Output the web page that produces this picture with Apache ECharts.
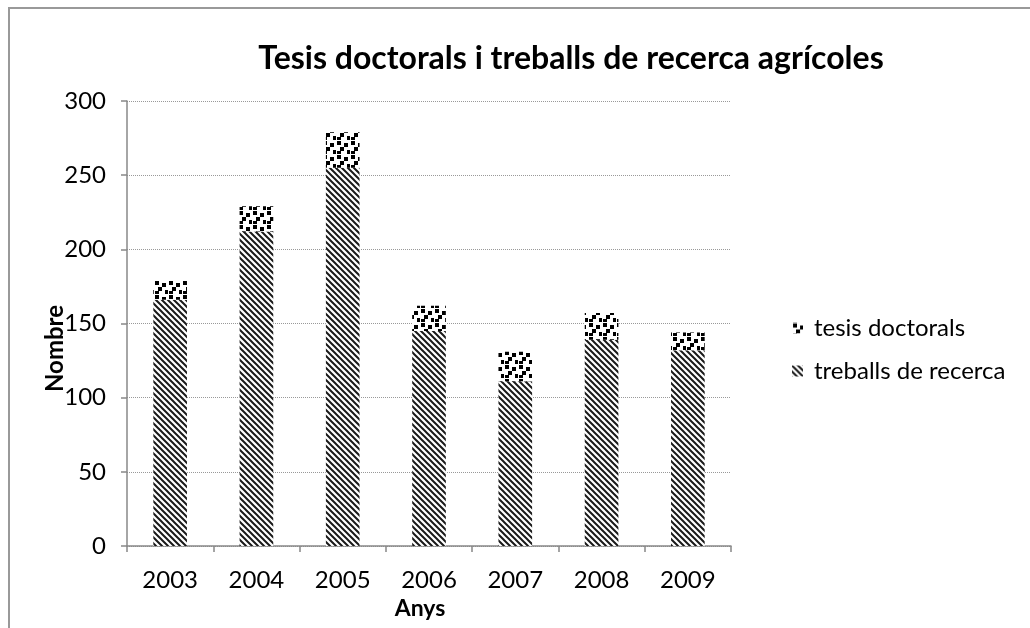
<!DOCTYPE html>
<html>
<head>
<meta charset="utf-8">
<script src="https://cdn.jsdelivr.net/npm/echarts@6/dist/echarts.min.js"></script>
<style>
  html, body { margin: 0; padding: 0; background: #fff; }
  #chart { width: 1030px; height: 628px; }
</style>
</head>
<body>
<div id="chart"></div>
<script>
const years = ['2003', '2004', '2005', '2006', '2007', '2008', '2009']
const treballs = [166, 212, 255, 145, 111, 139, 132]
const tesis = [13, 17, 24, 17, 20, 18, 12]
const yTicks = { min: 0, max: 300, interval: 50 }

const font = 'Lato, "Open Sans", sans-serif'

// diagonal hatch "\\\"
function stripes() {
  const c = document.createElement('canvas')
  c.width = 6; c.height = 6
  const g = c.getContext('2d')
  g.fillStyle = '#fff'; g.fillRect(0, 0, 6, 6)
  g.strokeStyle = '#1a1a1a'; g.lineWidth = 2
  g.beginPath()
  g.moveTo(-1, -1); g.lineTo(7, 7)
  g.moveTo(-7, -1); g.lineTo(1, 7)
  g.moveTo(5, -1); g.lineTo(13, 7)
  g.stroke()
  return c
}

// staggered black squares
function dots() {
  const c = document.createElement('canvas')
  c.width = 14; c.height = 14
  const g = c.getContext('2d')
  g.fillStyle = '#fff'; g.fillRect(0, 0, 14, 14)
  g.fillStyle = '#000'
  ;[[1, 1], [8, 3], [4, 7], [11, 10], [1, 11]].forEach(([x, y]) => g.fillRect(x, y, 4, 4))
  return c
}

const chart = echarts.init(document.getElementById('chart'))
chart.setOption({
  animation: false,
  backgroundColor: '#fff',
  title: {
    text: 'Tesis doctorals i treballs de recerca agrícoles',
    left: 566, top: 38, textAlign: 'center',
    textStyle: { fontFamily: font, fontSize: 32, fontWeight: 'bold', color: '#000' }
  },
  graphic: [{
    type: 'rect', shape: { x: 9, y: 8, width: 1100, height: 700 },
    style: { fill: 'none', stroke: '#999', lineWidth: 2 }, silent: true
  }],
  legend: {
    left: 787, top: 311, orient: 'vertical', itemGap: 19,
    itemWidth: 11, itemHeight: 11, icon: 'rect',
    data: ['tesis doctorals', 'treballs de recerca'],
    textStyle: { fontFamily: font, fontSize: 24, color: '#000', padding: [0, 0, 0, 6] }
  },
  grid: { left: 127, right: 299, top: 101, bottom: 82 },
  xAxis: {
    type: 'category', data: years,
    name: 'Anys', nameLocation: 'middle', nameGap: 50,
    nameTextStyle: { fontFamily: font, fontSize: 23, fontWeight: 'bold', color: '#000', padding: [0, 18, 0, 0] },
    axisLine: { lineStyle: { color: '#888', width: 1.5 } },
    axisTick: { show: true, alignWithLabel: false, length: 6, lineStyle: { color: '#888', width: 1.5 } },
    axisLabel: { fontFamily: font, fontSize: 24, color: '#000', margin: 22 }
  },
  yAxis: {
    type: 'value', min: yTicks.min, max: yTicks.max, interval: yTicks.interval,
    name: 'Nombre', nameLocation: 'middle', nameGap: 60, nameRotate: 90, nameMoveOverlap: false,
    nameTextStyle: { fontFamily: font, fontSize: 24, fontWeight: 'bold', color: '#000', padding: [0, 50, 0, 0] },
    axisLine: { show: true, lineStyle: { color: '#888', width: 1.5 } },
    axisTick: { show: true, length: 6, lineStyle: { color: '#888', width: 1.5 } },
    axisLabel: { fontFamily: font, fontSize: 24, color: '#000', margin: 21 },
    splitLine: { lineStyle: { color: '#999', type: 'dotted', width: 1 } }
  },
  series: [
    {
      name: 'treballs de recerca', type: 'bar', stack: 'total', barWidth: '39%',
      data: treballs,
      itemStyle: { color: { image: stripes(), repeat: 'repeat' } }
    },
    {
      name: 'tesis doctorals', type: 'bar', stack: 'total', barWidth: '39%',
      data: tesis,
      itemStyle: { color: { image: dots(), repeat: 'repeat' } }
    }
  ]
})
</script>
</body>
</html>
